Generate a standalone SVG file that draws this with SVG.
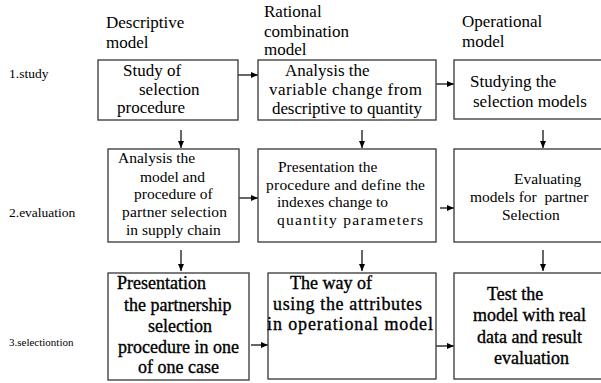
<svg xmlns="http://www.w3.org/2000/svg" width="601" height="383" viewBox="0 0 601 383" font-family="'Liberation Serif', 'Times New Roman', serif">
<defs>
<marker id="ah" markerWidth="8" markerHeight="8" refX="7" refY="4" orient="auto" markerUnits="userSpaceOnUse">
<path d="M0,1 L7,4 L0,7 Z" fill="#000"/>
</marker>
<style>
.box{fill:#fff;stroke:#444;stroke-width:1.4}
text{font-family:'Liberation Serif','Times New Roman',serif;fill:#000}
.h{font-size:17px}
.r1{font-size:17px}
.r2{font-size:15.5px}
.r3{font-size:18px;stroke:#000;stroke-width:0.35}
.lab1{font-size:13.5px}
.lab3{font-size:11px}
.c{stroke:#000;stroke-width:1.2;fill:none;marker-end:url(#ah)}
</style>
</defs>
<rect width="601" height="383" fill="#fff"/>
<g id="headers" class="h">
<text x="106" y="28">Descriptive</text>
<text x="106" y="48">model</text>
<text x="264" y="17">Rational</text>
<text x="264" y="37">combination</text>
<text x="264" y="55">model</text>
<text x="462" y="27">Operational</text>
<text x="462" y="47">model</text>
</g>
<g id="row-labels">
<text class="lab1" x="9" y="78">1.study</text>
<text class="lab1" x="9" y="217">2.evaluation</text>
<text class="lab3" x="9" y="346">3.selectiontion</text>
</g>
<g id="connectors">
<line class="c" x1="237" y1="75" x2="258" y2="75"/>
<line class="c" x1="436" y1="84" x2="454" y2="84"/>
<line class="c" x1="237" y1="198" x2="258" y2="198"/>
<line class="c" x1="440" y1="208" x2="454" y2="208"/>
<line class="c" x1="251" y1="345" x2="268" y2="345"/>
<line class="c" x1="428" y1="346" x2="454" y2="346"/>
<line class="c" x1="181" y1="130" x2="181" y2="148"/>
<line class="c" x1="362" y1="130" x2="362" y2="148"/>
<line class="c" x1="543" y1="130" x2="543" y2="148"/>
<line class="c" x1="181" y1="250" x2="181" y2="271"/>
<line class="c" x1="362" y1="250" x2="362" y2="271"/>
<line class="c" x1="543" y1="250" x2="543" y2="271"/>
</g>
<g id="n11">
<rect class="box" x="98" y="60" width="140" height="60"/>
<g class="r1">
<text x="123" y="76">Study of</text>
<text x="139" y="95">selection</text>
<text x="117" y="113">procedure</text>
</g>
</g>
<g id="n12">
<rect class="box" x="258" y="60" width="178" height="60"/>
<g class="r1">
<text x="285" y="76">Analysis the</text>
<text x="269" y="95" textLength="153" lengthAdjust="spacing">variable change from</text>
<text x="272" y="114" textLength="150" lengthAdjust="spacing">descriptive to quantity</text>
</g>
</g>
<g id="n13">
<rect class="box" x="454" y="60" width="150" height="59"/>
<g class="r1">
<text x="470" y="87">Studying the</text>
<text x="473" y="107">selection models</text>
</g>
</g>
<g id="n21">
<rect class="box" x="108" y="149" width="131" height="93"/>
<g class="r2">
<text x="118" y="163">Analysis the</text>
<text x="140" y="182">model and</text>
<text x="134" y="199">procedure of</text>
<text x="122" y="217" textLength="105" lengthAdjust="spacing">partner selection</text>
<text x="126" y="235">in supply chain</text>
</g>
</g>
<g id="n22">
<rect class="box" x="258" y="149" width="178" height="93"/>
<g class="r2">
<text x="278" y="172">Presentation the</text>
<text x="266" y="190" textLength="159" lengthAdjust="spacing">procedure and define the</text>
<text x="277" y="207">indexes change to</text>
<text x="277" y="225" textLength="146" lengthAdjust="spacing">quantity parameters</text>
</g>
</g>
<g id="n23">
<rect class="box" x="454" y="149" width="150" height="93"/>
<g class="r2">
<text x="514" y="184">Evaluating</text>
<text x="470" y="202" xml:space="preserve">models for  partner</text>
<text x="502" y="220">Selection</text>
</g>
</g>
<g id="n31">
<rect class="box" x="108" y="273" width="141" height="107"/>
<g class="r3">
<text x="117" y="289">Presentation</text>
<text x="124" y="311">the partnership</text>
<text x="148" y="332">selection</text>
<text x="118" y="353">procedure in one</text>
<text x="138" y="373">of one case</text>
</g>
</g>
<g id="n32">
<rect class="box" x="268" y="273" width="168" height="106"/>
<g class="r3">
<text x="290" y="289">The way of</text>
<text x="273" y="310" textLength="149" lengthAdjust="spacing">using the attributes</text>
<text x="267" y="330" textLength="166" lengthAdjust="spacing">in operational model</text>
</g>
</g>
<g id="n33">
<rect class="box" x="454" y="273" width="150" height="106"/>
<g class="r3">
<text x="487" y="300">Test the</text>
<text x="473" y="321">model with real</text>
<text x="477" y="343">data and result</text>
<text x="494" y="364">evaluation</text>
</g>
</g>
</svg>
